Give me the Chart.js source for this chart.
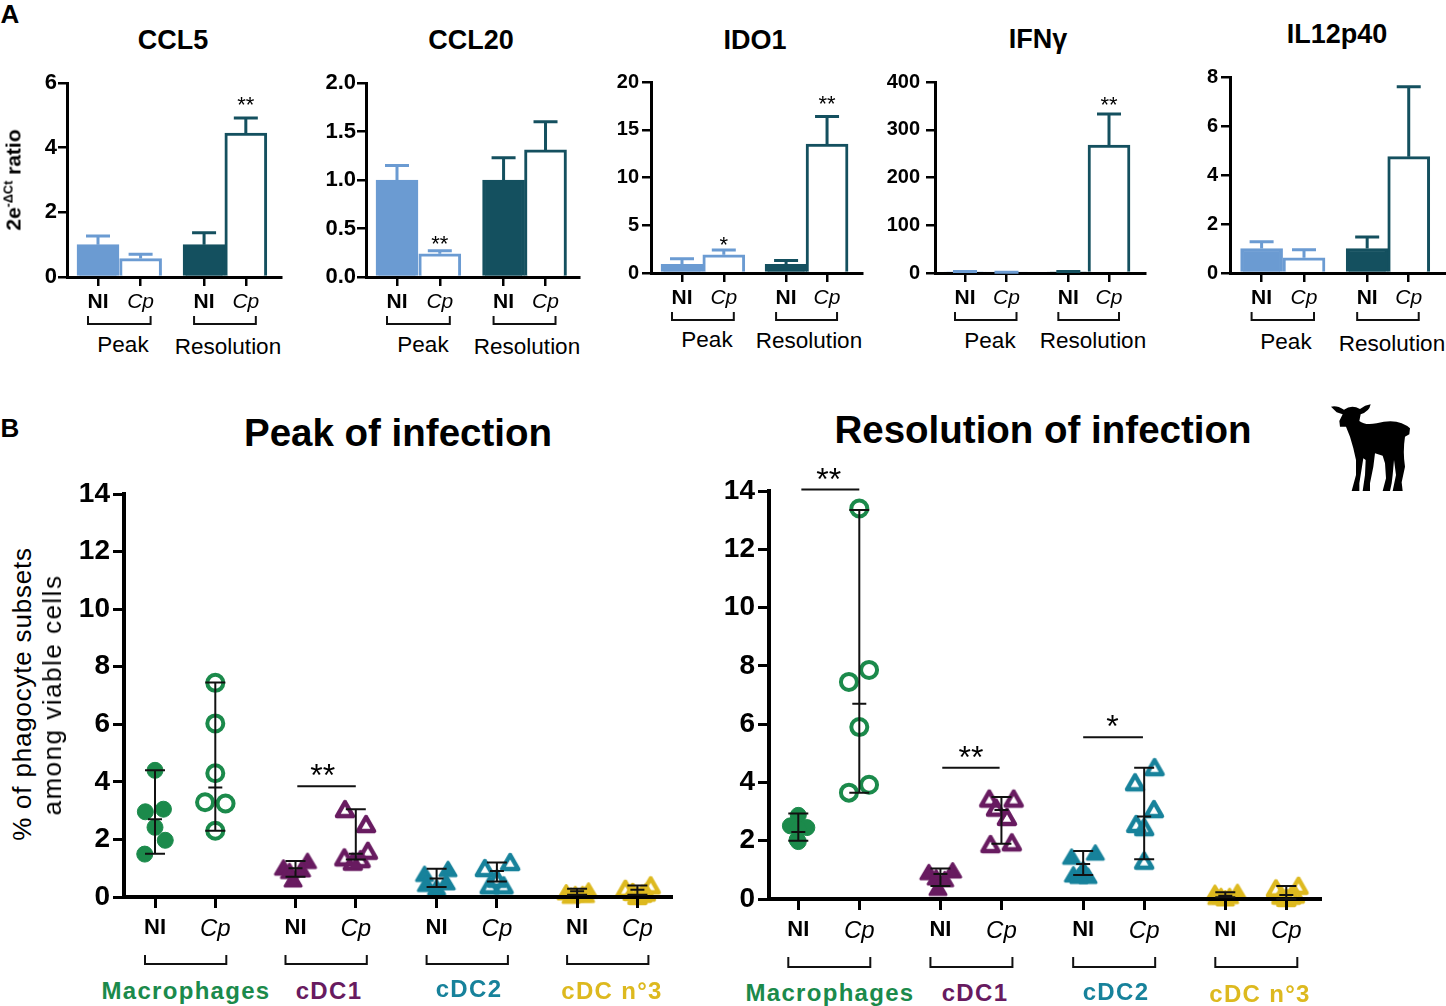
<!DOCTYPE html>
<html>
<head>
<meta charset="utf-8">
<title>Phagocyte subsets</title>
<script src="https://cdn.jsdelivr.net/npm/chart.js@4"></script>
<style>
  html,body{margin:0;padding:0;background:#fff;}
  #page{position:relative;width:1446px;height:1006px;overflow:hidden;font-family:"Liberation Sans",Arial,sans-serif;}
  #page canvas{position:absolute;}
  .t{position:absolute;transform:translate(-50%,-50%);white-space:nowrap;color:#000;line-height:1;}
  .title{font-weight:bold;font-size:27px;}
  .big{font-weight:bold;font-size:38.5px;}
  .sub{font-size:22.5px;}
  .grp{font-weight:bold;font-size:24px;letter-spacing:1.3px;}
  .rot{transform:translate(-50%,-50%) rotate(-90deg);}
  sup{font-size:.6em;line-height:0;}
</style>
</head>
<body>
<div id="page"></div>
<script>
// Panel A values: mean per bar, then top of the error bar
const barLabels = ['NI','Cp','NI','Cp'];
const ccl5Values = [1, 0.57, 1, 4.45];
const ccl5Upper = [1.27, 0.7, 1.37, 4.92];
const ccl20Values = [1, 0.24, 1, 1.31];
const ccl20Upper = [1.15, 0.27, 1.23, 1.6];
const ido1Values = [0.9, 1.9, 0.9, 13.5];
const ido1Upper = [1.5, 2.4, 1.3, 16.4];
const ifngValues = [1.5, 1, 1.5, 268];
const ifngUpper = [3, 1.5, 3, 333];
const il12Values = [1, 0.62, 1, 4.75];
const il12Upper = [1.28, 0.95, 1.47, 7.6];

// Panel B values per group, jitter is the sideways offset of each symbol, range is low / median / high
const dotLabels = ['NI','Cp','NI','Cp','NI','Cp','NI','Cp'];

const peakMacNI = [4.4, 2.96, 3.05, 2.42, 1.97, 1.49];
const peakMacNIJitter = [0, -0.16, 0.14, 0, 0.17, -0.17];
const peakMacNIRange = [1.5, 2.7, 4.4];
const peakMacCp = [7.44, 6.03, 4.3, 3.29, 3.25, 2.3];
const peakMacCpJitter = [0, 0, 0, -0.17, 0.17, 0];
const peakMacCpRange = [2.3, 3.8, 7.45];
const peakDc1NI = [1.23, 1.0, 0.94, 0.88, 0.59];
const peakDc1NIJitter = [0.2, -0.2, 0.1, -0.1, -0.04];
const peakDc1NIRange = [0.7, 1.0, 1.25];
const peakDc1Cp = [3.02, 2.5, 1.57, 1.34, 1.19, 1.28];
const peakDc1CpJitter = [-0.18, 0.17, 0.2, -0.19, -0.05, 0.08];
const peakDc1CpRange = [1.3, 1.5, 3.05];
const peakDc2NI = [0.78, 0.95, 0.43, 0.49, 0.31];
const peakDc2NIJitter = [-0.2, 0.19, -0.17, 0.16, 0];
const peakDc2NIRange = [0.35, 0.64, 0.98];
const peakDc2Cp = [0.97, 1.18, 0.37, 0.37, 0.6];
const peakDc2CpJitter = [-0.2, 0.22, -0.12, 0.11, 0];
const peakDc2CpRange = [0.54, 0.9, 1.2];
const peakDc3NI = [0.14, 0.2, 0.08, 0.08, 0.02, 0.05];
const peakDc3NIJitter = [-0.18, 0.19, -0.03, 0.09, -0.1, 0.14];
const peakDc3NIRange = [0.08, 0.2, 0.29];
const peakDc3Cp = [0.25, 0.37, 0.14, 0.08, 0, 0.12];
const peakDc3CpJitter = [-0.2, 0.22, -0.08, 0.08, 0, 0.14];
const peakDc3CpRange = [0.08, 0.25, 0.4];

const resMacNI = [2.87, 2.51, 2.45, 2.39, 2.03, 1.97];
const resMacNIJitter = [0, -0.13, 0.14, 0, -0.02, 0];
const resMacNIRange = [2.0, 2.3, 2.93];
const resMacCp = [13.4, 7.86, 7.45, 5.9, 3.92, 3.65];
const resMacCpJitter = [0, 0.16, -0.17, 0, 0.16, -0.17];
const resMacCpRange = [3.65, 6.7, 13.35];
const resDc1NI = [0.9, 0.96, 0.72, 0.66, 0.36];
const resDc1NIJitter = [-0.19, 0.2, -0.07, 0.07, -0.04];
const resDc1NIRange = [0.45, 0.86, 1.05];
const resDc1Cp = [3.41, 3.41, 3.1, 2.78, 1.85, 1.91];
const resDc1CpJitter = [-0.2, 0.2, -0.09, 0.09, -0.18, 0.17];
const resDc1CpRange = [1.9, 3.05, 3.5];
const resDc2NI = [1.43, 1.57, 0.82, 1.0, 0.77, 0.77];
const resDc2NIJitter = [-0.19, 0.2, -0.16, 0, 0.08, -0.07];
const resDc2NIRange = [0.82, 1.2, 1.65];
const resDc2Cp = [4.49, 3.97, 3.05, 2.54, 2.43, 1.28];
const resDc2CpJitter = [0.17, -0.15, 0.16, -0.13, 0, 0];
const resDc2CpRange = [1.36, 2.83, 4.5];
const resDc3NI = [0.19, 0.22, 0.08, 0.08, 0, 0.05];
const resDc3NIJitter = [-0.17, 0.2, -0.07, 0.07, 0, -0.14];
const resDc3NIRange = [0.06, 0.11, 0.23];
const resDc3Cp = [0.33, 0.42, 0.08, 0.08, 0, 0.12];
const resDc3CpJitter = [-0.17, 0.2, -0.08, 0.08, 0, 0.14];
const resDc3CpRange = [0, 0.14, 0.45];

const PEAK_BLUE = '#6b9bd2', RES_TEAL = '#14505f';
const GREEN = '#1b8a4b', PURPLE = '#681b60', TEAL = '#17829b', YELLOW = '#ddb91f';
const barSlots = [0, 1, 2.49, 3.47];
const dotSlots = [0, 1, 2.33, 3.33, 4.67, 5.67, 7, 8];
const page = document.getElementById('page');
Chart.defaults.font.family = '"Liberation Sans", Arial, sans-serif';
Chart.defaults.color = '#000';

function addText(cls, text, x, y, extra){
  const el = document.createElement('div');
  el.className = 't ' + cls;
  el.innerHTML = text;
  el.style.left = x + 'px';
  el.style.top = y + 'px';
  if(extra) el.style.cssText += extra;
  page.appendChild(el);
}

// rounded triangle symbol, handed to Chart.js as a pointStyle image
function triangleIcon(color, filled){
  const c = document.createElement('canvas');
  c.width = 30; c.height = 30;
  const g = c.getContext('2d');
  g.lineJoin = 'round';
  g.strokeStyle = color; g.fillStyle = color;
  g.lineWidth = filled ? 3 : 4.5;
  const w = 8, up = filled ? 7.5 : 8, down = 6;
  g.beginPath();
  g.moveTo(15, 15 - up); g.lineTo(15 + w, 15 + down); g.lineTo(15 - w, 15 + down); g.closePath();
  if(filled) g.fill();
  g.stroke();
  return c;
}

// error bars, range bars, brackets and stars, all placed through the chart's scales
function makeMarks(spec){
  return {
    id: 'marks',
    afterDraw(chart){
      const {ctx, scales:{x, y}} = chart;
      const base = y.getPixelForValue(0);
      ctx.save();
      ctx.lineCap = 'butt';
      (spec.errors || []).forEach(e => {
        const px = x.getPixelForValue(e.slot), top = y.getPixelForValue(e.top), bar = y.getPixelForValue(e.value);
        ctx.strokeStyle = e.color; ctx.lineWidth = 3;
        ctx.beginPath();
        ctx.moveTo(px, bar); ctx.lineTo(px, top);
        ctx.moveTo(px - 12, top); ctx.lineTo(px + 12, top);
        ctx.stroke();
      });
      (spec.ranges || []).forEach(r => {
        const px = x.getPixelForValue(r.slot);
        const [lo, mid, hi] = r.range.map(v => y.getPixelForValue(v));
        ctx.strokeStyle = '#111'; ctx.lineWidth = 2;
        ctx.beginPath();
        ctx.moveTo(px, lo); ctx.lineTo(px, hi);
        ctx.moveTo(px - 10, lo); ctx.lineTo(px + 10, lo);
        ctx.moveTo(px - 10, hi); ctx.lineTo(px + 10, hi);
        ctx.moveTo(px - 7, mid); ctx.lineTo(px + 7, mid);
        ctx.stroke();
      });
      (spec.brackets || []).forEach(b => {
        const x0 = x.getPixelForValue(b[0]) - spec.bracket.left, x1 = x.getPixelForValue(b[1]) + spec.bracket.right;
        const y0 = base + spec.bracket.top, y1 = base + spec.bracket.bottom;
        ctx.strokeStyle = '#111'; ctx.lineWidth = 2;
        ctx.beginPath();
        ctx.moveTo(x0, y0); ctx.lineTo(x0, y1); ctx.lineTo(x1, y1); ctx.lineTo(x1, y0);
        ctx.stroke();
      });
      (spec.lines || []).forEach(l => {
        const py = y.getPixelForValue(l.value);
        ctx.strokeStyle = '#111'; ctx.lineWidth = 2;
        ctx.beginPath();
        ctx.moveTo(x.getPixelForValue(l.from), py); ctx.lineTo(x.getPixelForValue(l.to), py);
        ctx.stroke();
      });
      ctx.fillStyle = '#000';
      ctx.textAlign = 'center'; ctx.textBaseline = 'alphabetic';
      (spec.stars || []).forEach(s => {
        ctx.font = spec.starFont;
        ctx.fillText(s.text, x.getPixelForValue(s.slot), y.getPixelForValue(s.value) + spec.starDrop);
      });
      ctx.restore();
    }
  };
}

function makeChart(box, type, datasets, yOpts, xOpts, spec){
  const canvas = document.createElement('canvas');
  const w = box.gutterL + (box.R - box.L) + box.padR, h = box.padT + (box.B - box.T) + box.gutterB;
  canvas.width = w; canvas.height = h;
  canvas.style.left = (box.L - box.gutterL) + 'px';
  canvas.style.top = (box.T - box.padT) + 'px';
  canvas.style.width = w + 'px'; canvas.style.height = h + 'px';
  page.appendChild(canvas);
  return new Chart(canvas.getContext('2d'), {
    type, data: {datasets},
    options: {
      responsive: false, animation: false, devicePixelRatio: 1,
      layout: {autoPadding: false, padding: {top: box.padT, right: box.padR, left: 0, bottom: 0}},
      plugins: {legend: {display: false}, tooltip: {enabled: false}},
      scales: {
        x: {
          type: 'linear', offset: false,
          min: (box.L - box.tick0) / box.pitch, max: (box.R - box.tick0) / box.pitch,
          afterFit: s => { s.height = box.gutterB; s.paddingLeft = 0; s.paddingRight = 0; },
          afterBuildTicks: s => { s.ticks = xOpts.slots.map(v => ({value: v})); },
          border: {color: '#000', width: xOpts.axisWidth, z: 2},
          grid: {offset: false, drawOnChartArea: false, color: '#000', tickColor: '#000', tickLength: xOpts.tickLen, lineWidth: xOpts.tickWidth, z: 2},
          ticks: {
            autoSkip: false, maxRotation: 0, minRotation: 0, padding: xOpts.pad, color: '#000',
            callback: (v, i) => xOpts.labels[i],
            font: c => xOpts.labels[c.index] === 'NI'
              ? {size: xOpts.niSize, weight: 'bold', style: 'normal'}
              : {size: xOpts.cpSize, weight: 'normal', style: 'italic'}
          }
        },
        y: {
          min: 0, max: yOpts.max,
          afterFit: s => { s.width = box.gutterL; },
          afterBuildTicks: s => { s.ticks = yOpts.ticks.map(v => ({value: v})); },
          border: {color: '#000', width: xOpts.axisWidth, z: 2},
          grid: {drawOnChartArea: false, color: '#000', tickColor: '#000', tickLength: xOpts.tickLen, lineWidth: xOpts.tickWidth, z: 2},
          ticks: {
            padding: yOpts.pad, color: '#000',
            font: {size: yOpts.size, weight: 'bold'},
            callback: v => yOpts.decimals ? v.toFixed(yOpts.decimals) : String(v)
          }
        }
      }
    },
    plugins: [makeMarks(spec)]
  });
}

// bar panel of figure part A
function barPanel(box, values, upper, yTicks, ySize, yPad, decimals, stars){
  const cols = [PEAK_BLUE, PEAK_BLUE, RES_TEAL, RES_TEAL];
  const dataset = {
    data: barSlots.map((x, i) => ({x, y: values[i]})),
    backgroundColor: [PEAK_BLUE, '#fff', RES_TEAL, '#fff'],
    borderColor: cols, borderWidth: 3, barThickness: 42, borderSkipped: 'start'
  };
  const spec = {
    errors: barSlots.map((slot, i) => ({slot, value: values[i], top: upper[i], color: cols[i]})),
    brackets: [[barSlots[0], barSlots[1]], [barSlots[2], barSlots[3]]],
    bracket: {left: 10, right: 10, top: 39, bottom: 47},
    stars, starFont: '22px "Liberation Sans"', starDrop: 11
  };
  const g = Object.assign({padT: 16, padR: 8, gutterL: 62, gutterB: 52}, box);
  makeChart(g, 'bar', [dataset],
    {max: yTicks[yTicks.length - 1], ticks: yTicks, size: ySize, pad: yPad, decimals},
    {slots: barSlots, labels: barLabels, axisWidth: 3, tickLen: 9, tickWidth: 2.5, pad: 4, niSize: 21, cpSize: 21},
    spec);
}

function group(slot, vals, jitter, color, shape, filled){
  const isCircle = shape === 'circle';
  return {
    data: vals.map((v, i) => ({x: slot + jitter[i], y: v})),
    pointStyle: isCircle ? 'circle' : triangleIcon(color, filled), clip: false,
    pointRadius: isCircle ? 8 : 10,
    pointBackgroundColor: filled ? color : 'rgba(0,0,0,0)',
    pointBorderColor: color,
    pointBorderWidth: !isCircle ? 0 : (filled ? 1 : 4)
  };
}

function dotPanel(box, groups, ranges, sigLines, stars){
  const sets = groups.map((g, i) => group(dotSlots[i], g[0], g[1], g[2], g[3], i % 2 === 0));
  const spec = {
    ranges: ranges.map((range, i) => ({slot: dotSlots[i], range})),
    brackets: [[0,1],[2,3],[4,5],[6,7]].map(p => [dotSlots[p[0]], dotSlots[p[1]]]),
    bracket: {left: 10, right: 11, top: box.brTop, bottom: box.brBottom},
    lines: sigLines, stars, starFont: '32px "Liberation Sans"', starDrop: 0
  };
  const g = Object.assign({padT: 40, padR: 8, gutterL: 72, gutterB: 80}, box);
  makeChart(g, 'scatter', sets,
    {max: 14, ticks: [0,2,4,6,8,10,12,14], size: 28, pad: 3},
    {slots: dotSlots, labels: dotLabels, axisWidth: 4, tickLen: 11, tickWidth: 3, pad: 7, niSize: 22, cpSize: 24},
    spec);
}

barPanel({L:67, R:281, T:83, B:277, tick0:98, pitch:42.6}, ccl5Values, ccl5Upper, [0,2,4,6], 22, 1, 0,
  [{slot: barSlots[3], value: 5.45, text: '**'}]);
barPanel({L:366, R:579, T:83, B:277, tick0:397, pitch:42.8}, ccl20Values, ccl20Upper, [0,0.5,1,1.5,2], 22, 1, 1,
  [{slot: barSlots[1], value: 0.38, text: '**'}]);
barPanel({L:651, R:862, T:82, B:273, tick0:682, pitch:41.8}, ido1Values, ido1Upper, [0,5,10,15,20], 20, 3, 0,
  [{slot: barSlots[1], value: 3.4, text: '*'}, {slot: barSlots[3], value: 18.1, text: '**'}]);
barPanel({L:935, R:1145, T:80, B:273, tick0:965, pitch:41.5}, ifngValues, ifngUpper, [0,100,200,300,400], 20, 6, 0,
  [{slot: barSlots[3], value: 360, text: '**'}]);
barPanel({L:1230, R:1445, T:77, B:273, tick0:1261.6, pitch:42.4}, il12Values, il12Upper, [0,2,4,6,8], 20, 3, 0, []);

dotPanel({L:124, R:671, T:494, B:897, tick0:155, pitch:60.3, brTop:58, brBottom:67},
  [[peakMacNI, peakMacNIJitter, GREEN, 'circle'], [peakMacCp, peakMacCpJitter, GREEN, 'circle'],
   [peakDc1NI, peakDc1NIJitter, PURPLE, 'triangle'], [peakDc1Cp, peakDc1CpJitter, PURPLE, 'triangle'],
   [peakDc2NI, peakDc2NIJitter, TEAL, 'triangle'], [peakDc2Cp, peakDc2CpJitter, TEAL, 'triangle'],
   [peakDc3NI, peakDc3NIJitter, YELLOW, 'triangle'], [peakDc3Cp, peakDc3CpJitter, YELLOW, 'triangle']],
  [peakMacNIRange, peakMacCpRange, peakDc1NIRange, peakDc1CpRange, peakDc2NIRange, peakDc2CpRange, peakDc3NIRange, peakDc3CpRange],
  [{from: 2.36, to: 3.33, value: 3.85}],
  [{slot: 2.78, value: 3.85, text: '**'}]);

dotPanel({L:769, R:1320, T:491, B:899, tick0:798.3, pitch:61, brTop:58, brBottom:68},
  [[resMacNI, resMacNIJitter, GREEN, 'circle'], [resMacCp, resMacCpJitter, GREEN, 'circle'],
   [resDc1NI, resDc1NIJitter, PURPLE, 'triangle'], [resDc1Cp, resDc1CpJitter, PURPLE, 'triangle'],
   [resDc2NI, resDc2NIJitter, TEAL, 'triangle'], [resDc2Cp, resDc2CpJitter, TEAL, 'triangle'],
   [resDc3NI, resDc3NIJitter, YELLOW, 'triangle'], [resDc3Cp, resDc3CpJitter, YELLOW, 'triangle']],
  [resMacNIRange, resMacCpRange, resDc1NIRange, resDc1CpRange, resDc2NIRange, resDc2CpRange, resDc3NIRange, resDc3CpRange],
  [{from: 0.05, to: 1, value: 14.05}, {from: 2.36, to: 3.3, value: 4.5}, {from: 4.67, to: 5.65, value: 5.55}],
  [{slot: 0.5, value: 14.05, text: '**'}, {slot: 2.83, value: 4.5, text: '**'}, {slot: 5.15, value: 5.55, text: '*'}]);

// all the loose text around the charts
addText('', 'A', 10, 14, 'font-weight:bold;font-size:26px;');
addText('', 'B', 10, 428, 'font-weight:bold;font-size:26px;');
addText('title', 'CCL5', 173, 40);
addText('title', 'CCL20', 471, 40);
addText('title', 'IDO1', 755, 40);
addText('title', 'IFN&gamma;', 1038, 39);
addText('title', 'IL12p40', 1337, 34);
addText('rot', '2e<sup>-&Delta;Ct</sup> ratio', 13, 180, 'font-weight:bold;font-size:21px;');
[[123,345,228,347],[423,345,527,347],[707,340,809,341],[990,341,1093,341],[1286,342,1392,344]].forEach(p => {
  addText('sub', 'Peak', p[0], p[1]);
  addText('sub', 'Resolution', p[2], p[3]);
});
addText('big', 'Peak of infection', 398, 433);
addText('big', 'Resolution of infection', 1043, 430);
addText('rot', '% of phagocyte subsets', 22, 694, 'font-size:26px;letter-spacing:.8px;');
addText('rot', 'among viable cells', 52, 695, 'font-size:26px;letter-spacing:1.5px;');
[[186,991,830,993,'Macrophages',GREEN],[329,991,975,993,'cDC1',PURPLE],[469,989,1116,992,'cDC2',TEAL],[612,991,1260,994,'cDC n°3',YELLOW]].forEach(g => {
  addText('grp', g[4], g[0], g[1], 'color:' + g[5] + ';');
  addText('grp', g[4], g[2], g[3], 'color:' + g[5] + ';');
});

// lamb silhouette, top right
const svgNS = 'http://www.w3.org/2000/svg';
const lamb = document.createElementNS(svgNS, 'svg');
lamb.setAttribute('viewBox', '0 0 300 315');
lamb.setAttribute('style', 'position:absolute;left:1320px;top:395px;width:100px;height:105px;');
const lambPath = document.createElementNS(svgNS, 'path');
lambPath.setAttribute('fill', '#000');
lambPath.setAttribute('d', 'M33 35 Q50 30 72 44 Q95 28 120 42 Q135 30 152 28 Q148 50 122 58 L118 78 Q135 92 170 85 Q215 72 245 85 Q262 92 270 100 L268 118 L255 125 Q248 170 255 215 L245 262 L248 288 L218 288 L228 240 L222 195 L218 240 L215 265 L210 288 L188 288 L198 250 L195 205 L188 182 L165 175 L160 215 L150 265 L150 288 L128 288 L135 240 L137 195 L130 190 L122 240 L118 265 L118 288 L95 288 L108 240 L108 195 L100 160 L90 125 L78 95 L60 95 L58 78 L68 58 L50 52 Z');
lamb.appendChild(lambPath);
page.appendChild(lamb);
</script>
</body>
</html>
